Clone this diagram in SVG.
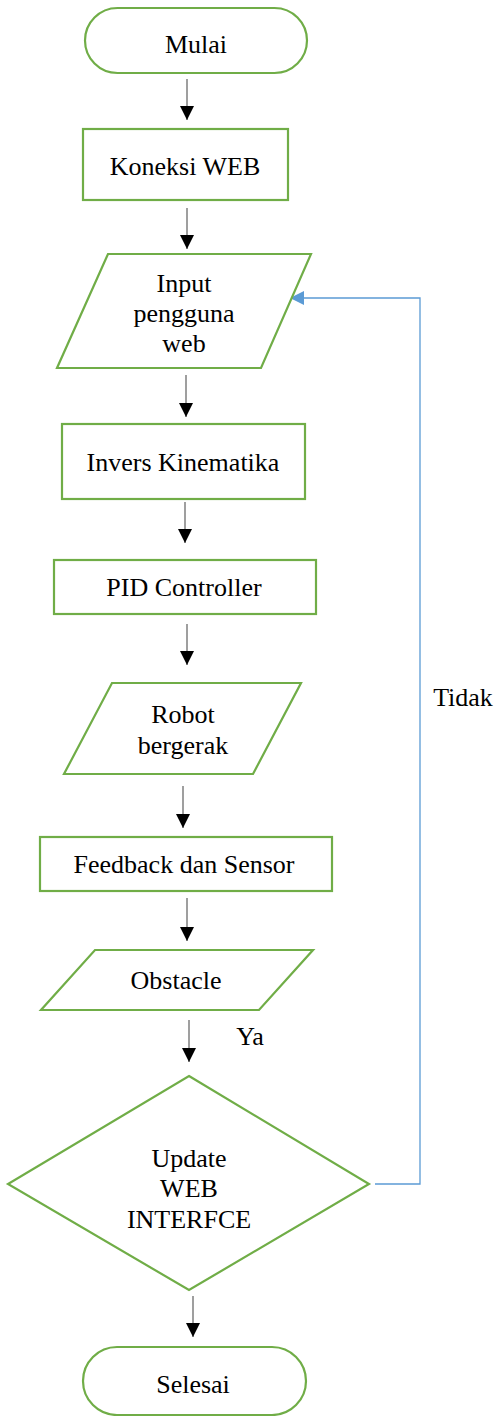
<svg xmlns="http://www.w3.org/2000/svg" width="495" height="1416" viewBox="0 0 495 1416">
<style>
.n{fill:#ffffff;stroke:#70ad47;stroke-width:2.2}
.t{font-family:"Liberation Serif","Times New Roman",serif;font-size:26px;fill:#000;text-anchor:middle}
.c{fill:none;stroke:#7f7f7f;stroke-width:1.5}
.b{fill:none;stroke:#5b9bd5;stroke-width:1.3}
</style>
<defs>
<marker id="ah" viewBox="0 0 14 14" refX="14" refY="7" markerWidth="14" markerHeight="14" markerUnits="userSpaceOnUse" orient="auto">
<path d="M0,0 L14,7 L0,14 z" fill="#000"/>
</marker>
<marker id="ahb" viewBox="0 0 14 14" refX="14" refY="7" markerWidth="15" markerHeight="14" markerUnits="userSpaceOnUse" orient="auto">
<path d="M0,0 L14,7 L0,14 z" fill="#5b9bd5"/>
</marker>
</defs>
<rect width="495" height="1416" fill="#fff"/>
<g id="connectors">
<path class="c" d="M187,79 V120" marker-end="url(#ah)"/>
<path class="c" d="M187,208 V249" marker-end="url(#ah)"/>
<path class="c" d="M186,375 V417" marker-end="url(#ah)"/>
<path class="c" d="M185,502 V543" marker-end="url(#ah)"/>
<path class="c" d="M187,624 V665" marker-end="url(#ah)"/>
<path class="c" d="M183,786 V828" marker-end="url(#ah)"/>
<path class="c" d="M187,898 V941" marker-end="url(#ah)"/>
<path class="c" d="M189,1020 V1062" marker-end="url(#ah)"/>
<path class="c" d="M193,1296 V1337" marker-end="url(#ah)"/>
<path class="b" d="M375,1184 H420 V298 H290" marker-end="url(#ahb)"/>
<text class="t" x="250" y="1045">Ya</text>
<text class="t" x="463" y="706">Tidak</text>
</g>
<g id="mulai">
<rect class="n" x="85" y="8" width="222" height="65" rx="32.5"/>
<text class="t" x="196" y="53">Mulai</text>
</g>
<g id="koneksi">
<rect class="n" x="83" y="129" width="205" height="71"/>
<text class="t" x="185" y="175">Koneksi WEB</text>
</g>
<g id="input">
<polygon class="n" points="108,254 311,254 261,368 57,368"/>
<text class="t" x="184" y="292">Input</text>
<text class="t" x="184" y="322">pengguna</text>
<text class="t" x="184" y="352">web</text>
</g>
<g id="invers">
<rect class="n" x="62" y="424" width="243" height="75"/>
<text class="t" x="183" y="471">Invers Kinematika</text>
</g>
<g id="pid">
<rect class="n" x="54" y="560" width="262" height="54"/>
<text class="t" x="184" y="596">PID Controller</text>
</g>
<g id="robot">
<polygon class="n" points="112,683 301,683 253,774 64,774"/>
<text class="t" x="183" y="723">Robot</text>
<text class="t" x="183" y="754">bergerak</text>
</g>
<g id="feedback">
<rect class="n" x="40" y="837" width="292" height="54"/>
<text class="t" x="184" y="873">Feedback dan Sensor</text>
</g>
<g id="obstacle">
<polygon class="n" points="95,950 313,950 259,1010 41,1010"/>
<text class="t" x="176" y="989">Obstacle</text>
</g>
<g id="update">
<polygon class="n" points="189,1076 369,1184 189,1290 8,1184"/>
<text class="t" x="189" y="1167">Update</text>
<text class="t" x="189" y="1197">WEB</text>
<text class="t" x="189" y="1228">INTERFCE</text>
</g>
<g id="selesai">
<rect class="n" x="83" y="1347" width="223" height="68" rx="34"/>
<text class="t" x="193" y="1393">Selesai</text>
</g>
</svg>
